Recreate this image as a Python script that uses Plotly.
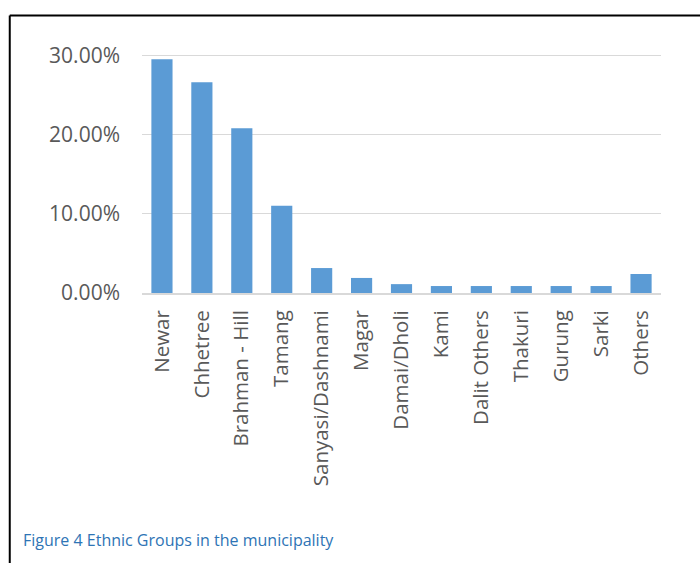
import plotly.graph_objects as go

categories = ["Newar", "Chhetree", "Brahman - Hill", "Tamang", "Sanyasi/Dashnami",
              "Magar", "Damai/Dholi", "Kami", "Dalit Others", "Thakuri", "Gurung",
              "Sarki", "Others"]
shares = [29.5, 26.6, 20.8, 11.0, 3.15, 1.9, 1.12, 0.88, 0.88, 0.88, 0.88, 0.88, 2.4]
y_ticks = [0, 10, 20, 30]
y_tick_labels = ["0.00%", "10.00%", "20.00%", "30.00%"]
caption = "Figure 4 Ethnic Groups in the municipality"

W, H = 700, 563
L, R_ = 141.5, 661.5
B = 293
Y_TOP = 30.3
T = B - (B - 55) / 30 * Y_TOP

def px_x(px):
    return (px - L) / (R_ - L)

def px_y(py):
    return (B - py) / (B - T)

fig = go.Figure(go.Bar(
    x=categories, y=shares,
    marker=dict(color="#5B9BD5", line=dict(width=0)),
    width=0.53,
))

fig.update_layout(
    width=W, height=H,
    margin=dict(l=L, r=W - R_, t=T, b=H - B, autoexpand=False),
    paper_bgcolor="white", plot_bgcolor="white",
    font=dict(family="Open Sans", color="#595959", size=20),
    showlegend=False,
    xaxis=dict(
        tickangle=-90, showgrid=False, showline=True, linecolor="#D9D9D9",
        linewidth=2, ticks="", ticklabelstandoff=7,
        tickfont=dict(size=20.5, color="#595959"),
    ),
    yaxis=dict(
        range=[0, Y_TOP], tickvals=y_ticks, ticktext=y_tick_labels,
        showgrid=True, gridcolor="#D9D9D9", gridwidth=1, zeroline=False,
        showline=False, ticks="", ticklabelstandoff=21,
        tickfont=dict(size=21, color="#595959"),
    ),
    shapes=[
        dict(type="line", xref="paper", yref="paper",
             x0=px_x(9), x1=px_x(705), y0=px_y(15), y1=px_y(15),
             line=dict(color="black", width=2)),
        dict(type="line", xref="paper", yref="paper",
             x0=px_x(9), x1=px_x(9), y0=px_y(15), y1=px_y(570),
             line=dict(color="black", width=2)),
    ],
    annotations=[
        dict(text=caption, xref="paper", yref="paper",
             x=px_x(20), y=px_y(540), xanchor="left", yanchor="middle",
             showarrow=False, font=dict(family="Open Sans", size=16, color="#2E74B5")),
    ],
)

fig.write_html("out.html")
